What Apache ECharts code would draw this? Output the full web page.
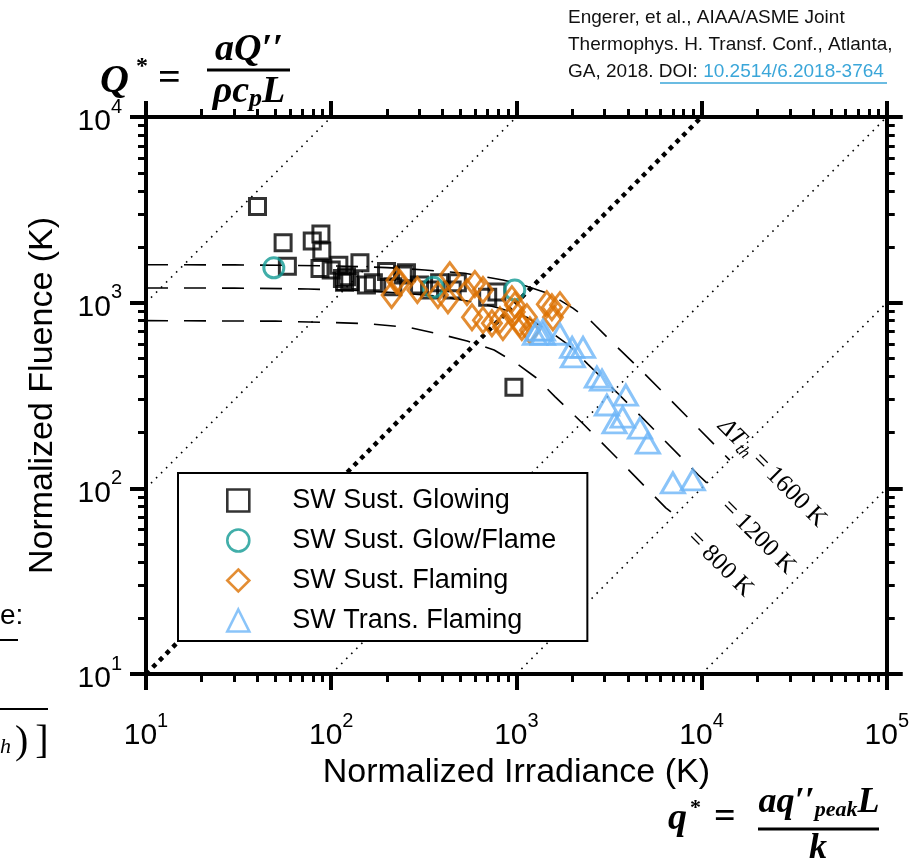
<!DOCTYPE html>
<html>
<head>
<meta charset="utf-8">
<script src="https://cdn.jsdelivr.net/npm/echarts@6/dist/echarts.min.js"></script>
<style>html,body{margin:0;background:#fff}#main{width:912px;height:864px}</style>
</head>
<body>
<div id="main"></div>
<script>
// axis ticks
const xMajor = [10, 100, 1000, 10000, 100000];
const xMinor = [20, 30, 40, 50, 60, 70, 80, 90, 200, 300, 400, 500, 600, 700, 800, 900,
  2000, 3000, 4000, 5000, 6000, 7000, 8000, 9000, 20000, 30000, 40000, 50000, 60000, 70000, 80000, 90000];
const yMajor = [10, 100, 1000, 10000];
const yMinor = [20, 30, 40, 50, 60, 70, 80, 90, 200, 300, 400, 500, 600, 700, 800, 900,
  2000, 3000, 4000, 5000, 6000, 7000, 8000, 9000];

// measurements [irradiance, fluence]
const glowing = [[40, 3300], [55, 2100], [58, 1570], [88, 2340], [79, 2150], [89, 1900], [87, 1530],
  [110, 1590], [100, 1500], [143, 1640], [121, 1380], [126, 1300], [118, 1290], [115, 1350],
  [169, 1280], [199, 1470], [245, 1410], [255, 1450], [215, 1220], [155, 1245], [300, 1245],
  [340, 1170], [385, 1280], [450, 1170], [480, 1280], [700, 1070], [785, 1140], [970, 350]];
const glowFlame = [[49, 1540], [355, 1210], [980, 1170]];
const flaming = [[225, 1320], [212, 1100], [292, 1170], [377, 1100], [235, 1275], [437, 1405],
  [427, 1030], [541, 1140], [597, 1260], [660, 1170], [576, 835], [660, 805], [738, 775],
  [815, 805], [846, 740], [946, 1045], [982, 970], [1045, 775], [1070, 740], [1140, 835],
  [1183, 710], [1460, 980], [1575, 835], [1555, 945], [980, 890], [1720, 970]];
const transFlaming = [[1300, 712], [1390, 712], [1260, 676], [1390, 676], [1720, 676], [2000, 575],
  [2290, 575], [2020, 510], [2720, 397], [2900, 383], [3900, 318], [3080, 281], [3750, 242],
  [3390, 225], [4650, 211], [5130, 175], [7000, 107], [8970, 111]];

// model curves
const dT1600 = [[10, 1600], [30, 1598], [100, 1580], [200, 1545], [320, 1500], [527, 1440], [845, 1325],
  [1084, 1245], [1517, 1112], [2019, 935], [2557, 787], [3239, 622], [4643, 439], [6490, 314],
  [12820, 157], [14200, 142]];
const dT1200 = [[10, 1200], [30, 1198], [75, 1185], [150, 1160], [240, 1125], [395, 1080], [634, 994],
  [813, 934], [1138, 834], [1514, 701], [1918, 590], [2429, 467], [3482, 329], [4868, 236],
  [9615, 118], [10670, 107]];
const dT800 = [[10, 800], [50, 795], [100, 782], [160, 770], [264, 735], [422, 662], [542, 622],
  [758, 556], [1010, 468], [1279, 394], [1620, 311], [2321, 220], [3245, 157], [6410, 78.5],
  [7180, 71.8]];

// reference lines Q* = c q*
const lineX100 = [[10, 1000], [100, 10000]];
const lineX10 = [[10, 100], [1000, 10000]];
const lineX1 = [[10, 10], [10000, 10000]];
const lineX01 = [[100, 10], [100000, 10000]];
const lineX001 = [[1000, 10], [100000, 1000]];
const lineX0001 = [[10000, 10], [100000, 100]];

const chart = echarts.init(document.getElementById('main'));

const sans = '"Liberation Sans", Arial, sans-serif';
const serif = '"Liberation Serif", "DejaVu Serif", serif';
const teal = '#129a93', orange = '#dc7000', sky = '#6db5f8';

function powLabel(v) {
  return '{b|10}{s|' + Math.round(Math.log10(v)) + '}';
}
const tickRich = {
  b: { fontSize: 30, lineHeight: 40, fontFamily: sans, color: '#000', verticalAlign: 'bottom' },
  s: { fontSize: 20, lineHeight: 20, fontFamily: sans, color: '#000', verticalAlign: 'top' }
};

function axis(pos, major, minor, kind, extra) {
  const isX = pos === 'bottom' || pos === 'top';
  const a = {
    type: 'log', logBase: 10, position: pos,
    min: 10, max: isX ? 100000 : 10000,
    splitLine: { show: false },
    axisLine: { show: true, lineStyle: { color: '#000', width: 4 } },
    axisLabel: { show: false },
    axisTick: kind === 'major'
      ? { show: true, inside: false, length: 16, customValues: major, lineStyle: { color: '#000', width: 4 } }
      : { show: true, inside: false, length: 8, customValues: minor, lineStyle: { color: '#000', width: 3 } }
  };
  return Object.assign(a, extra || {});
}

const dotted = (data, w, dash) => ({
  type: 'line', data: data, showSymbol: false, silent: true, z: 1,
  lineStyle: { color: '#000', width: w, type: dash, cap: 'butt' }
});
const dashed = (data) => ({
  type: 'line', data: data, showSymbol: false, silent: true, z: 1,
  lineStyle: { color: '#000', width: 1.6, type: [22, 16] }
});
const hollow = (name, data, symbol, size, color) => ({
  name: name, type: 'scatter', data: data, symbol: symbol, symbolSize: size,
  itemStyle: { color: 'rgba(0,0,0,0)', borderColor: color, borderWidth: 3 }
});
const legendItem = (name, icon, color) => ({
  name: name, icon: icon, itemStyle: { color: 'rgba(0,0,0,0)', borderColor: color, borderWidth: 2.6 }
});

const option = {
  animation: false,
  backgroundColor: '#fff',
  grid: { left: 146, top: 117, width: 741, height: 557 },
  xAxis: [
    axis('bottom', xMajor, xMinor, 'major', {
      axisLabel: { show: true, customValues: xMajor, margin: 37, formatter: powLabel, rich: tickRich },
      name: 'Normalized Irradiance (K)', nameLocation: 'middle', nameGap: 58,
      nameTextStyle: { fontSize: 34, fontFamily: sans, color: '#000' }
    }),
    axis('bottom', xMajor, xMinor, 'minor'),
    axis('top', xMajor, xMinor, 'major'),
    axis('top', xMajor, xMinor, 'minor')
  ],
  yAxis: [
    axis('left', yMajor, yMinor, 'major', {
      axisLabel: { show: true, customValues: yMajor, margin: 24, formatter: powLabel, rich: tickRich },
      name: 'Normalized Fluence (K)', nameLocation: 'middle', nameGap: 86,
      nameTextStyle: { fontSize: 34, fontFamily: sans, color: '#000' }
    }),
    axis('left', yMajor, yMinor, 'minor'),
    axis('right', yMajor, yMinor, 'major'),
    axis('right', yMajor, yMinor, 'minor')
  ],
  legend: {
    orient: 'vertical', left: 178, top: 473,
    padding: [14, 31, 7, 48],
    itemWidth: 22, itemHeight: 22, itemGap: 13,
    borderColor: '#000', borderWidth: 2, backgroundColor: '#fff',
    textStyle: { fontFamily: sans, fontSize: 27, color: '#000', lineHeight: 22, padding: [0, 0, 0, 38] },
    data: [
      legendItem('SW Sust. Glowing', 'rect', '#000'),
      legendItem('SW Sust. Glow/Flame', 'circle', teal),
      legendItem('SW Sust. Flaming', 'diamond', orange),
      legendItem('SW Trans. Flaming', 'triangle', sky)
    ]
  },
  series: [
    dotted(lineX100, 1.6, [1.6, 5.5]),
    dotted(lineX10, 1.6, [1.6, 5.5]),
    dotted(lineX01, 1.6, [1.6, 5.5]),
    dotted(lineX001, 1.6, [1.6, 5.5]),
    dotted(lineX0001, 1.6, [1.6, 5.5]),
    dotted(lineX1, 4.5, [4.5, 5]),
    dashed(dT1600),
    dashed(dT1200),
    dashed(dT800),
    hollow('SW Sust. Glowing', glowing, 'rect', 16, '#000'),
    hollow('SW Sust. Glow/Flame', glowFlame, 'circle', 20, teal),
    hollow('SW Sust. Flaming', flaming, 'diamond', [19, 25], orange),
    hollow('SW Trans. Flaming', transFlaming, 'triangle', [23, 20], sky)
  ],
  graphic: [
    // Q* formula
    { type: 'text', left: 100, top: 62, style: { text: 'Q', font: 'italic bold 40px ' + serif, fill: '#000' } },
    { type: 'text', left: 136, top: 55, style: { text: '*', font: 'bold 24px ' + serif, fill: '#000' } },
    { type: 'text', left: 158, top: 60, style: { text: '=', font: 'bold 40px ' + serif, fill: '#000' } },
    { type: 'line', shape: { x1: 207, y1: 70, x2: 290, y2: 70 }, style: { stroke: '#000', lineWidth: 3 } },
    { type: 'text', x: 249, y: 50, style: { text: 'aQ\u2032\u2032', font: 'italic bold 38px ' + serif, fill: '#000', align: 'center', verticalAlign: 'middle' } },
    { type: 'text', x: 249, y: 92, style: {
      text: '{m|\u03c1c}{sub|p}{m|L}', align: 'center', verticalAlign: 'middle',
      rich: { m: { font: 'italic bold 38px ' + serif, fill: '#000' }, sub: { font: 'italic bold 26px ' + serif, fill: '#000', padding: [14, 0, 0, 0] } } } },
    // q* formula
    { type: 'text', left: 668, top: 800, style: { text: 'q', font: 'italic bold 38px ' + serif, fill: '#000' } },
    { type: 'text', left: 690, top: 797, style: { text: '*', font: 'bold 22px ' + serif, fill: '#000' } },
    { type: 'text', left: 714, top: 799, style: { text: '=', font: 'bold 38px ' + serif, fill: '#000' } },
    { type: 'line', shape: { x1: 758, y1: 829, x2: 879, y2: 829 }, style: { stroke: '#000', lineWidth: 3 } },
    { type: 'text', x: 819, y: 803, style: {
      text: '{m|aq\u2032\u2032}{sub|peak}{m|L}', align: 'center', verticalAlign: 'middle',
      rich: { m: { font: 'italic bold 36px ' + serif, fill: '#000' }, sub: { font: 'italic bold 22px ' + serif, fill: '#000', padding: [14, 0, 0, 0] } } } },
    { type: 'text', x: 818, y: 849, style: { text: 'k', font: 'italic bold 36px ' + serif, fill: '#000', align: 'center', verticalAlign: 'middle' } },
    // citation
    { type: 'text', left: 568, top: 8, style: { text: 'Engerer, et al., AIAA/ASME Joint', font: '19px ' + sans, fill: '#111' } },
    { type: 'text', left: 568, top: 35, style: { text: 'Thermophys. H. Transf. Conf., Atlanta,', font: '19px ' + sans, fill: '#111' } },
    { type: 'text', left: 568, top: 62, style: {
      text: '{n|GA, 2018. DOI: }{d|10.2514/6.2018-3764}',
      rich: { n: { font: '19px ' + sans, fill: '#111' }, d: { font: '19px ' + sans, fill: '#3aa6d9' } } } },
    { type: 'line', shape: { x1: 660, y1: 83, x2: 887, y2: 83 }, style: { stroke: '#3aa6d9', lineWidth: 1.5 } },
    // cut-off text at the left edge
    { type: 'text', left: 0, top: 602, style: { text: 'e:', font: '28px ' + sans, fill: '#000' } },
    { type: 'line', shape: { x1: 0, y1: 640, x2: 18, y2: 640 }, style: { stroke: '#000', lineWidth: 2 } },
    { type: 'line', shape: { x1: 0, y1: 709, x2: 48, y2: 709 }, style: { stroke: '#000', lineWidth: 2 } },
    { type: 'text', x: 0, y: 742, style: {
      text: '{s|h}{n|)}{m|]}', align: 'left', verticalAlign: 'middle',
      rich: { s: { font: 'italic 22px ' + serif, fill: '#000', padding: [10, 0, 0, 0] },
        n: { font: '40px ' + serif, fill: '#000', padding: [0, 0, 0, 4] },
        m: { font: '40px ' + serif, fill: '#000', padding: [0, 0, 0, 7] } } } },
    // curve labels
    { type: 'text', x: 772, y: 473, rotation: -Math.PI / 4, style: {
      text: '{i|\u0394T}{t|th}{n| = 1600 K}', align: 'center', verticalAlign: 'middle',
      rich: { i: { font: 'italic 25px ' + serif, fill: '#000' }, t: { font: 'italic 17px ' + serif, fill: '#000', padding: [11, 0, 0, 0] }, n: { font: '25px ' + serif, fill: '#000' } } } },
    { type: 'text', x: 758, y: 537, rotation: -Math.PI / 4, style: { text: '= 1200 K', font: '25px ' + serif, fill: '#000', align: 'center', verticalAlign: 'middle' } },
    { type: 'text', x: 720, y: 564, rotation: -Math.PI / 4, style: { text: '= 800 K', font: '25px ' + serif, fill: '#000', align: 'center', verticalAlign: 'middle' } }
  ]
};
chart.setOption(option);
</script>
</body>
</html>
